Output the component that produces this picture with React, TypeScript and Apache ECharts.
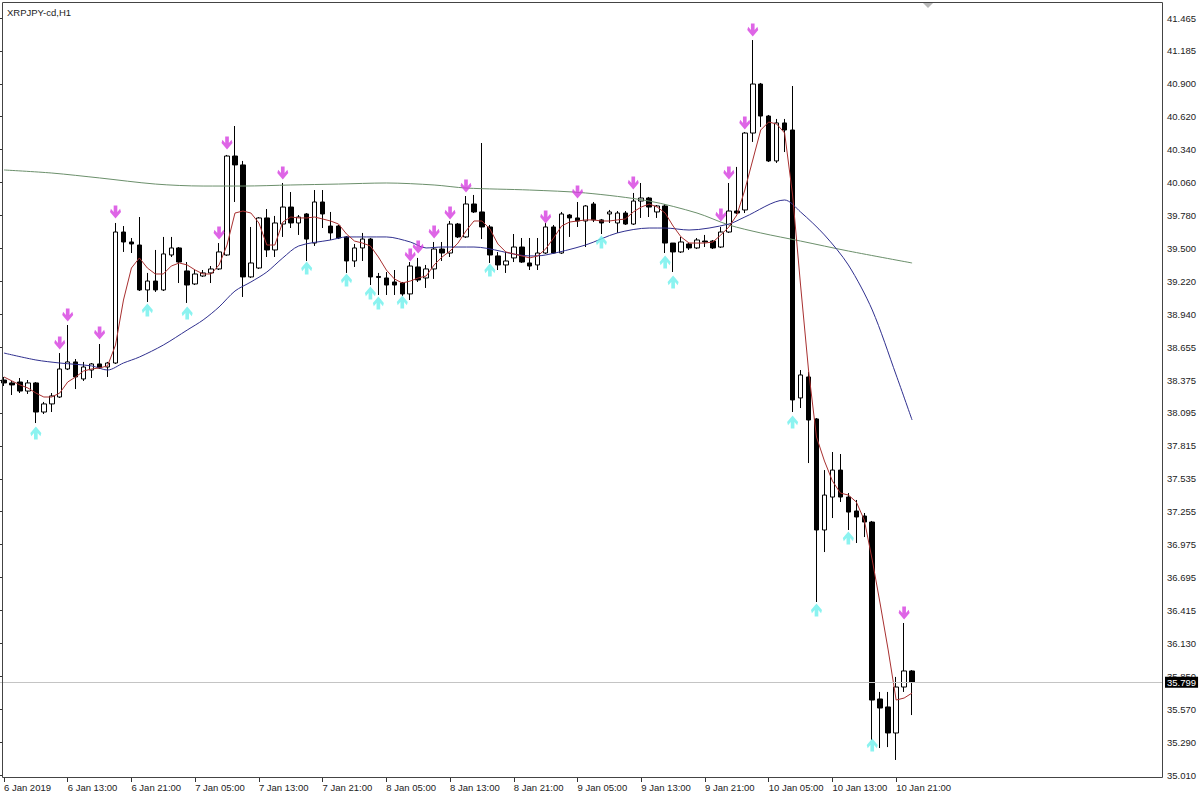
import React, { useEffect, useRef } from "react";
import * as echarts from "echarts";

const title = "XRPJPY-cd,H1";
const tickLabels = ["6 Jan 2019", "6 Jan 13:00", "6 Jan 21:00", "7 Jan 05:00", "7 Jan 13:00", "7 Jan 21:00", "8 Jan 05:00", "8 Jan 13:00", "8 Jan 21:00", "9 Jan 05:00", "9 Jan 13:00", "9 Jan 21:00", "10 Jan 05:00", "10 Jan 13:00", "10 Jan 21:00"];
const priceLabels = ["35.010", "35.290", "35.570", "35.850", "36.130", "36.415", "36.695", "36.975", "37.255", "37.535", "37.815", "38.095", "38.375", "38.655", "38.940", "39.220", "39.500", "39.780", "40.060", "40.340", "40.620", "40.900", "41.185", "41.465"];
const slotCount = 146;
const barsPerLabel = 8;
const lastPrice = 35.799;

// [open, close, low, high]
const ohlc = [
  [38.378, 38.353, 38.327, 38.404], [38.353, 38.336, 38.250, 38.370], [38.361, 38.284, 38.267, 38.395], [38.284, 38.353, 38.259, 38.378],
  [38.353, 38.105, 38.011, 38.361], [38.105, 38.174, 38.088, 38.191], [38.174, 38.242, 38.105, 38.267], [38.233, 38.472, 38.225, 38.608],
  [38.472, 38.532, 38.463, 38.847], [38.532, 38.404, 38.301, 38.557], [38.387, 38.489, 38.370, 38.532], [38.463, 38.515, 38.395, 38.523],
  [38.515, 38.481, 38.472, 38.685], [38.489, 38.523, 38.404, 38.532], [38.523, 39.640, 38.515, 39.717], [39.640, 39.555, 39.470, 39.691],
  [39.555, 39.538, 39.461, 39.589], [39.529, 39.146, 39.137, 39.768], [39.146, 39.222, 39.043, 39.291], [39.222, 39.146, 39.129, 39.487],
  [39.146, 39.453, 39.137, 39.598], [39.444, 39.504, 39.427, 39.598], [39.504, 39.384, 39.205, 39.512], [39.308, 39.188, 39.035, 39.384],
  [39.197, 39.282, 39.188, 39.316], [39.265, 39.291, 39.257, 39.316], [39.291, 39.325, 39.205, 39.350], [39.325, 39.470, 39.316, 39.546],
  [39.444, 40.288, 39.436, 40.297], [40.288, 40.212, 39.896, 40.544], [40.212, 39.257, 39.086, 40.246], [39.257, 39.376, 39.248, 39.683],
  [39.333, 39.760, 39.325, 39.768], [39.760, 39.487, 39.427, 39.836], [39.487, 39.717, 39.427, 39.777], [39.708, 39.853, 39.598, 40.058],
  [39.853, 39.717, 39.674, 39.981], [39.717, 39.768, 39.615, 39.785], [39.794, 39.580, 39.393, 39.802], [39.546, 39.896, 39.521, 39.998],
  [39.896, 39.794, 39.674, 39.998], [39.691, 39.632, 39.572, 39.811], [39.691, 39.589, 39.580, 39.700], [39.598, 39.393, 39.291, 39.606],
  [39.393, 39.504, 39.342, 39.538], [39.504, 39.580, 39.393, 39.632], [39.580, 39.257, 39.188, 39.589], [39.261, 39.253, 39.103, 39.291],
  [39.248, 39.188, 39.103, 39.299], [39.214, 39.188, 39.103, 39.316], [39.205, 39.112, 39.095, 39.214], [39.112, 39.350, 39.060, 39.384],
  [39.342, 39.231, 39.214, 39.419], [39.248, 39.325, 39.163, 39.359], [39.325, 39.495, 39.240, 39.555], [39.495, 39.461, 39.393, 39.555],
  [39.461, 39.708, 39.427, 39.734], [39.708, 39.598, 39.589, 39.717], [39.598, 39.879, 39.589, 39.947], [39.879, 39.811, 39.802, 39.956],
  [39.811, 39.683, 39.580, 40.399], [39.683, 39.444, 39.376, 39.700], [39.436, 39.359, 39.316, 39.470], [39.359, 39.393, 39.291, 39.470],
  [39.419, 39.512, 39.384, 39.623], [39.512, 39.384, 39.376, 39.589], [39.376, 39.350, 39.316, 39.589], [39.359, 39.461, 39.316, 39.589],
  [39.461, 39.683, 39.453, 39.717], [39.683, 39.461, 39.453, 39.700], [39.461, 39.794, 39.453, 39.811], [39.785, 39.760, 39.598, 39.794],
  [39.760, 39.734, 39.683, 39.896], [39.734, 39.862, 39.512, 39.870], [39.879, 39.743, 39.725, 39.896], [39.743, 39.717, 39.623, 39.751],
  [39.794, 39.811, 39.717, 39.828], [39.717, 39.802, 39.632, 39.819], [39.802, 39.708, 39.700, 39.819], [39.708, 39.904, 39.700, 39.973],
  [39.904, 39.930, 39.760, 40.058], [39.930, 39.853, 39.768, 39.939], [39.811, 39.862, 39.760, 39.870], [39.862, 39.546, 39.461, 39.879],
  [39.546, 39.470, 39.299, 39.546], [39.470, 39.555, 39.461, 39.598], [39.538, 39.504, 39.487, 39.546], [39.504, 39.572, 39.495, 39.589],
  [39.563, 39.555, 39.512, 39.615], [39.563, 39.504, 39.495, 39.572], [39.512, 39.640, 39.504, 39.683], [39.640, 39.819, 39.632, 40.058],
  [39.819, 39.802, 39.794, 40.195], [39.828, 40.484, 39.802, 40.493], [40.484, 40.902, 40.408, 41.277], [40.902, 40.629, 40.536, 40.911],
  [40.629, 40.246, 40.237, 40.638], [40.246, 40.570, 40.229, 40.604], [40.570, 40.510, 40.322, 40.604], [40.510, 38.208, 38.105, 40.885],
  [38.225, 38.421, 38.139, 38.463], [38.404, 38.037, 37.670, 38.446], [38.046, 37.099, 36.485, 38.054], [37.099, 37.397, 36.911, 37.610],
  [37.380, 37.610, 37.201, 37.764], [37.610, 37.380, 37.338, 37.747], [37.380, 37.252, 37.099, 37.414], [37.261, 37.210, 36.988, 37.355],
  [37.218, 37.167, 37.039, 37.244], [37.167, 35.649, 35.308, 37.176], [35.658, 35.581, 35.240, 35.718], [35.590, 35.368, 35.248, 35.718],
  [35.368, 35.760, 35.138, 35.846], [35.760, 35.897, 35.718, 36.306], [35.897, 35.799, 35.521, 35.905],
];

const fastMA = [
  38.404, 38.370, 38.336, 38.310, 38.267, 38.233, 38.233, 38.267, 38.361, 38.404,
  38.455, 38.472, 38.481, 38.498, 38.676, 39.060, 39.333, 39.419, 39.333, 39.282,
  39.282, 39.350, 39.376, 39.359, 39.316, 39.282, 39.282, 39.359, 39.529, 39.802,
  39.819, 39.802, 39.717, 39.529, 39.529, 39.725, 39.768, 39.760, 39.760, 39.768,
  39.751, 39.734, 39.708, 39.623, 39.563, 39.546, 39.521, 39.427, 39.316, 39.240,
  39.205, 39.222, 39.248, 39.265, 39.359, 39.427, 39.478, 39.546, 39.649, 39.734,
  39.734, 39.666, 39.538, 39.470, 39.453, 39.436, 39.419, 39.436, 39.495, 39.589,
  39.691, 39.725, 39.734, 39.743, 39.743, 39.734, 39.734, 39.743, 39.751, 39.811,
  39.853, 39.879, 39.853, 39.802, 39.691, 39.598, 39.546, 39.546, 39.546, 39.555,
  39.615, 39.683, 39.785, 39.998, 40.254, 40.510, 40.578, 40.561, 40.484, 39.956,
  39.188, 38.463, 37.892, 37.687, 37.517, 37.414, 37.397, 37.338, 37.184, 36.843,
  36.468, 36.076, 35.649, 35.666, 35.709,
];

// [bar index, value] read at selected bars
const midMA = [
  [0, 38.608], [4, 38.549], [7, 38.523], [11, 38.498], [13, 38.463], [15, 38.523], [17, 38.574], [20, 38.676],
  [23, 38.804], [25, 38.890], [27, 39.001], [29, 39.137], [31, 39.214], [33, 39.299], [35, 39.419], [37, 39.521],
  [41, 39.572], [43, 39.598], [48, 39.598], [51, 39.555], [53, 39.504], [55, 39.512], [59, 39.512], [66, 39.436],
  [68, 39.444], [73, 39.529], [77, 39.632], [81, 39.674], [83, 39.674], [86, 39.657], [91, 39.708], [93, 39.768],
  [98, 39.913], [100, 39.811], [103, 39.615], [106, 39.359], [109, 38.975], [112, 38.421], [114, 38.037],
];

const slowMA = [
  [0, 40.169], [6, 40.143], [12, 40.101], [19, 40.049], [25, 40.032], [30, 40.032], [36, 40.041], [42, 40.049],
  [48, 40.058], [54, 40.041], [58, 40.015], [66, 39.998], [73, 39.973], [81, 39.904], [87, 39.802], [91, 39.700],
  [95, 39.632], [100, 39.563], [106, 39.478], [114, 39.376],
];

const downArrows = [
  [7, 38.694], [8, 38.932], [12, 38.779], [14, 39.811], [27, 39.632], [28, 40.399], [35, 40.143], [51, 39.444],
  [52, 39.512], [54, 39.640], [56, 39.802], [58, 40.032], [68, 39.768], [72, 39.981], [79, 40.058], [90, 39.785],
  [91, 40.143], [93, 40.570], [94, 41.363], [113, 36.391],
];

const upArrows = [
  [4, 37.926], [18, 38.975], [23, 38.949], [38, 39.333], [43, 39.231], [46, 39.120], [47, 39.035], [50, 39.043],
  [61, 39.316], [75, 39.555], [83, 39.384], [84, 39.214], [99, 38.020], [102, 36.417], [106, 37.031], [109, 35.265],
];

const FONT = "'Liberation Sans', Arial, sans-serif";
const DOWN_PATH = "path://M4,0L8,0L8,6L11,3L12,6L6,12L0,6L1,3L4,6Z";
const UP_PATH = "path://M4,12L8,12L8,6L11,9L12,6L6,0L0,6L1,9L4,6Z";

export default function App() {
  const ref = useRef<HTMLDivElement>(null);

  useEffect(() => {
    if (!ref.current) return;
    const chart = echarts.init(ref.current, undefined, { renderer: "svg" });
    const categories = Array.from({ length: slotCount }, (_, i) => String(i));
    const PLOT_RIGHT = 1163;

    chart.setOption({
      animation: false,
      backgroundColor: "#ffffff",
      grid: [
        { left: 0, right: 1200 - PLOT_RIGHT, top: 2, bottom: 20, show: false },
        { left: 0, right: 1200 - PLOT_RIGHT, top: 18, bottom: 23, show: false },
      ],
      xAxis: [
        {
          type: "category",
          gridIndex: 0,
          data: categories,
          boundaryGap: true,
          axisLine: { show: false },
          axisTick: {
            show: true,
            alignWithLabel: true,
            length: 4,
            interval: (i: number) => i % barsPerLabel === 0 && i / barsPerLabel < tickLabels.length,
            lineStyle: { color: "#333" },
          },
          axisLabel: {
            show: true,
            interval: (i: number) => i % barsPerLabel === 0 && i / barsPerLabel < tickLabels.length,
            formatter: (_v: string, i: number) => tickLabels[i / barsPerLabel] ?? "",
            align: "left",
            margin: 4,
            fontSize: 9.5,
            fontFamily: FONT,
            color: "#222",
          },
          splitLine: { show: false },
        },
        { type: "value", gridIndex: 1, min: 0, max: 1, show: false },
      ],
      yAxis: [
        { type: "value", gridIndex: 0, min: 34.9842, max: 41.6014, show: false, scale: true },
        {
          type: "value",
          gridIndex: 1,
          position: "right",
          min: 0,
          max: priceLabels.length - 1,
          interval: 1,
          axisLine: { show: false },
          axisTick: { show: true, length: 3, lineStyle: { color: "#333" } },
          axisLabel: {
            formatter: (v: number) => priceLabels[Math.round(v)] ?? "",
            fontSize: 9.5,
            fontFamily: FONT,
            color: "#222",
            margin: 4,
          },
          splitLine: { show: false },
        },
      ],
      graphic: [
        {
          type: "rect",
          silent: true,
          z: 100,
          shape: { x: 2.5, y: 2.5, width: PLOT_RIGHT - 3, height: 775 },
          style: { fill: "none", stroke: "#444", lineWidth: 1 },
        },
        {
          type: "polygon",
          silent: true,
          z: 100,
          shape: { points: [[923, 3], [933, 3], [928, 8]] },
          style: { fill: "#b8b8b8" },
        },
        {
          type: "text",
          left: 7,
          top: 7,
          z: 100,
          style: { text: title, fontSize: 9.5, fontFamily: FONT, fill: "#222" },
        },
      ],
      series: [
        {
          type: "candlestick",
          xAxisIndex: 0,
          yAxisIndex: 0,
          data: ohlc,
          barWidth: 5,
          itemStyle: {
            color: "#ffffff",
            color0: "#000000",
            borderColor: "#000000",
            borderColor0: "#000000",
            borderWidth: 1,
          },
          markLine: {
            silent: true,
            symbol: "none",
            animation: false,
            lineStyle: { color: "#c4c4c4", width: 1, type: "solid" },
            label: {
              show: true,
              position: "end",
              distance: 2,
              formatter: lastPrice.toFixed(3),
              backgroundColor: "#000",
              color: "#fff",
              fontSize: 9.5,
              fontFamily: FONT,
              padding: [1, 2, 0, 2],
            },
            data: [{ yAxis: lastPrice }],
          },
          z: 2,
        },
        {
          type: "line",
          xAxisIndex: 0,
          yAxisIndex: 0,
          data: slowMA,
          symbol: "none",
          smooth: 0.3,
          lineStyle: { color: "#6b8f6b", width: 1 },
          z: 3,
        },
        {
          type: "line",
          xAxisIndex: 0,
          yAxisIndex: 0,
          data: midMA,
          symbol: "none",
          smooth: 0.3,
          lineStyle: { color: "#30308f", width: 1 },
          z: 3,
        },
        {
          type: "line",
          xAxisIndex: 0,
          yAxisIndex: 0,
          data: fastMA,
          symbol: "none",
          lineStyle: { color: "#a83030", width: 1 },
          z: 4,
        },
        {
          type: "scatter",
          xAxisIndex: 0,
          yAxisIndex: 0,
          data: downArrows,
          symbol: DOWN_PATH,
          symbolSize: [11, 13],
          itemStyle: { color: "#d63fe0" },
          z: 5,
        },
        {
          type: "scatter",
          xAxisIndex: 0,
          yAxisIndex: 0,
          data: upArrows,
          symbol: UP_PATH,
          symbolSize: [11, 13],
          itemStyle: { color: "#6ef0ec" },
          z: 5,
        },
      ],
    });

    return () => chart.dispose();
  }, []);

  return (
    <div
      ref={ref}
      style={{ position: "fixed", left: 0, top: 0, width: 1200, height: 798, background: "#fff" }}
    />
  );
}
